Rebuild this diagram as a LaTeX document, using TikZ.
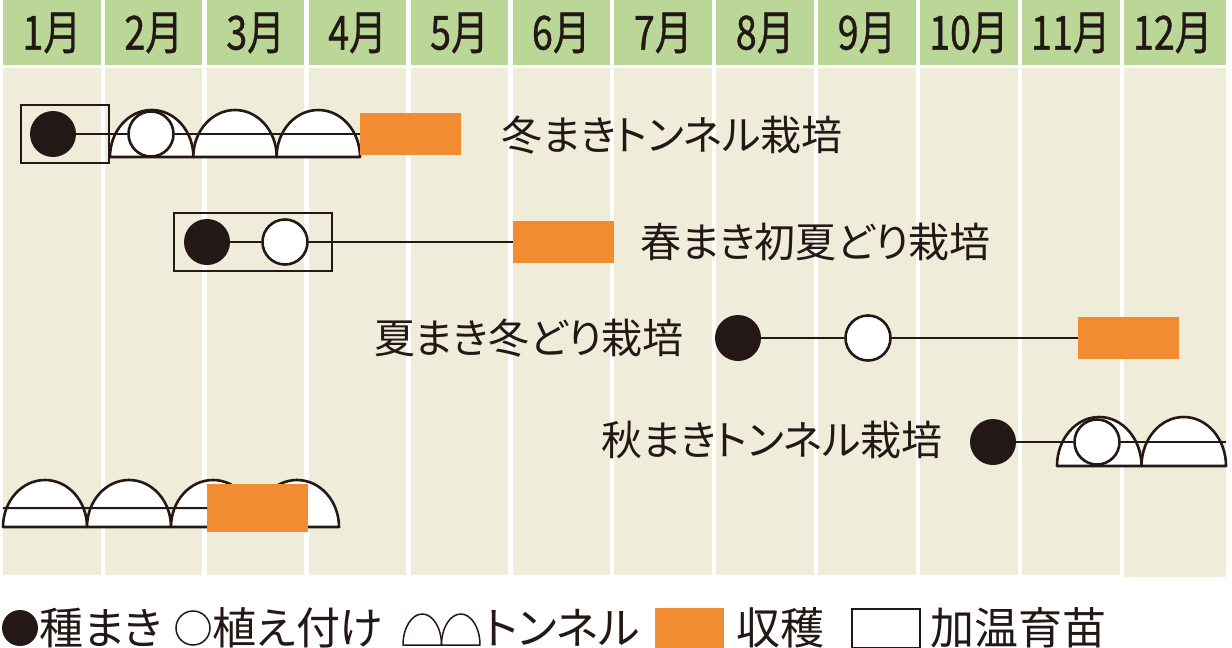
\documentclass[tikz,border=0pt]{standalone}
\usepackage{fontspec}
\setmainfont{Noto Sans CJK JP}[RawFeature=+palt]
\newfontfamily\headfont{Noto Sans CJK JP}[FakeStretch=0.8, FakeBold=0.8]
\usetikzlibrary{positioning,calc}
\definecolor{headgreen}{RGB}{186,215,151}
\definecolor{bodybeige}{RGB}{240,236,218}
\definecolor{cropink}{RGB}{35,24,21}
\definecolor{harvestorange}{RGB}{241,140,50}
\tikzset{
    sowdot/.style={circle, fill=cropink, minimum size=46pt, inner sep=0pt},
    plantdot/.style={circle, fill=white, draw=cropink, line width=2.6pt, minimum size=45pt, inner sep=0pt},
    harvest/.style={rectangle, fill=harvestorange, minimum width=101pt, minimum height=42pt, inner sep=0pt},
    heatbox/.style={draw=cropink, line width=1.5pt},
    tunnel/.style={draw=cropink, fill=white, line width=2.6pt, line join=round},
    link/.style={draw=cropink, line width=2pt},
    monthlabel/.style={font=\headfont\fontsize{47}{52}\selectfont, text=cropink},
    rowlabel/.style={font=\fontsize{41}{47}\selectfont, text=cropink, inner sep=0pt},
    keylabel/.style={font=\fontsize{44}{50}\selectfont, text=cropink, inner sep=0pt, anchor=west},
}

\begin{document}
\begin{tikzpicture}[x=1pt, y=-1pt]
    \useasboundingbox (0,0) rectangle (1232,648);

    % Month columns
    \fill[headgreen] (1124,0) rectangle (1226,65);
    \fill[bodybeige] (1124,68) rectangle (1226,577);
    \foreach \m in {1,...,12} {
        \pgfmathsetmacro{\xl}{3+101.9*(\m-1)}
        \fill[headgreen] (\xl,0) rectangle ++(97.5,65);
        \fill[bodybeige] (\xl,68) rectangle ++(97.5,507);
        \node[monthlabel] (month\m) at (\xl+48.75,33) {\m 月};
    }

    % Winter sowing, tunnel
    \draw[heatbox] (21,105) rectangle (109,163);
    \foreach \x in {110,193.3,276.6}
        \draw[tunnel] (\x,157) arc[start angle=180, end angle=360, x radius=41.7, y radius=47] -- cycle;
    \node[sowdot] (sow1) at (53,134) {};
    \node[plantdot] (plant1) at (151,134) {};
    \node[harvest, anchor=west] (crop1) at (360,134) {};
    \draw[link] (sow1) -- (plant1);
    \draw[link] (plant1) -- (crop1);
    \node[rowlabel, anchor=west] (plan1) at (501,135) {冬まきトンネル栽培};

    % Spring sowing, early summer harvest
    \draw[heatbox] (174,213) rectangle (332,271);
    \node[sowdot] (sow2) at (207,242) {};
    \node[plantdot] (plant2) at (285,242) {};
    \node[harvest, anchor=west] (crop2) at (513,242) {};
    \draw[link] (sow2) -- (plant2);
    \draw[link] (plant2) -- (crop2);
    \node[rowlabel, anchor=west] (plan2) at (640,242) {春まき初夏どり栽培};

    % Summer sowing, winter harvest
    \node[sowdot] (sow3) at (738,338) {};
    \node[plantdot] (plant3) at (868,338) {};
    \node[harvest, anchor=west] (crop3) at (1078,338) {};
    \draw[link] (sow3) -- (plant3);
    \draw[link] (plant3) -- (crop3);
    \node[rowlabel, anchor=east] (plan3) at (684,338) {夏まき冬どり栽培};

    % Autumn sowing, tunnel
    \foreach \x in {1057,1141.5}
        \draw[tunnel] (\x,466) arc[start angle=180, end angle=360, x radius=42.25, y radius=49] -- cycle;
    \node[sowdot] (sow4) at (993,442) {};
    \node[plantdot] (plant4) at (1097,442) {};
    \coordinate (end4) at (1226,442);
    \draw[link] (sow4) -- (plant4);
    \draw[link] (plant4) -- (end4);
    \node[rowlabel, anchor=west] (plan4) at (601,440) {秋まきトンネル栽培};

    % Tunnel carried over from autumn
    \foreach \x in {3,87,171,255}
        \draw[tunnel] (\x,527) arc[start angle=180, end angle=360, x radius=42, y radius=47] -- cycle;
    \coordinate (start5) at (3,508);
    \node[harvest, anchor=north west, minimum height=48pt] (crop5) at (207,484) {};
    \draw[link] (start5) -- (crop5.west);

    % Key
    \node[sowdot, minimum size=36pt] (keysow) at (20,628) {};
    \node[keylabel] (keysowtext) at (39,628) {種まき};
    \node[plantdot, minimum size=34pt, line width=1.5pt] (keyplant) at (193,628) {};
    \node[keylabel] (keyplanttext) at (212,628) {植え付け};
    \foreach \x in {403,441.5}
        \draw[tunnel, line width=1.5pt] (\x,645) arc[start angle=180, end angle=360, x radius=19.25, y radius=31] -- cycle;
    \node[keylabel] (keytunneltext) at (484,628) {トンネル};
    \node[harvest, anchor=north west, minimum width=69pt, minimum height=40pt] (keycrop) at (655,608) {};
    \node[keylabel] (keycroptext) at (736,628) {収穫};
    \node[draw=cropink, line width=1.5pt, anchor=north west, minimum width=68pt, minimum height=39pt, inner sep=0pt] (keyheat) at (851,608) {};
    \node[keylabel] (keyheattext) at (930,628) {加温育苗};
\end{tikzpicture}
\end{document}
